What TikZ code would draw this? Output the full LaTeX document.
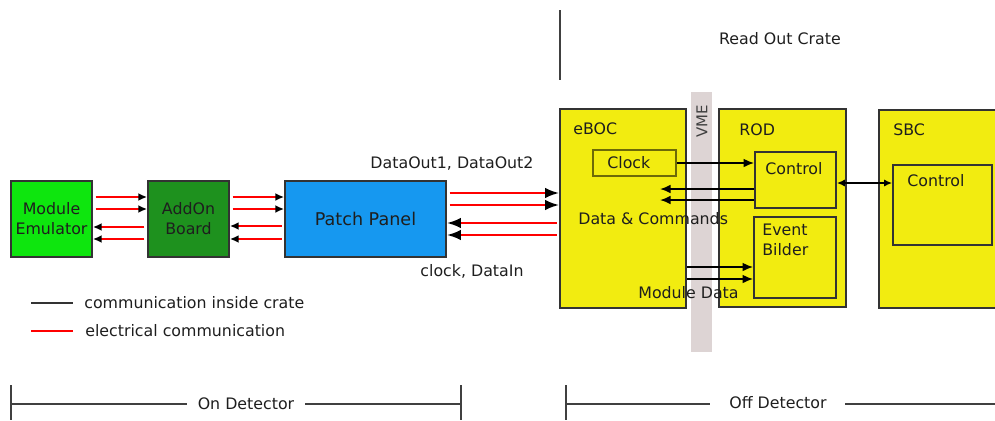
\documentclass[tikz,border=0pt]{standalone}
\usepackage{fontspec}
\setmainfont{DejaVu Sans}
\usetikzlibrary{arrows.meta}
\definecolor{emugreen}{RGB}{14,230,14}
\definecolor{addgreen}{RGB}{30,145,30}
\definecolor{panelblue}{RGB}{22,152,240}
\definecolor{crateyellow}{RGB}{242,236,16}
\definecolor{vmegray}{RGB}{221,212,212}
\definecolor{txt}{RGB}{30,30,30}
\tikzset{
  box/.style={draw=black!80,line width=1pt,inner sep=0pt,text=txt,
    font=\fontsize{9}{11.3}\selectfont,align=center},
  lbl/.style={text=txt,font=\fontsize{9}{11.3}\selectfont,inner sep=0pt},
  elec/.style={red,line width=1.3pt,shorten <=1.5pt},
  crate/.style={black,line width=1pt},
  sep/.style={black!75,line width=0.6pt}
}
\begin{document}
\begin{tikzpicture}[x=0.02cm,y=-0.02cm]
  \clip (0,0) rectangle (995,420);
  \node[box,fill=emugreen,minimum width=1.62cm,minimum height=1.52cm] (emu) at (51.5,219) {Module\\Emulator};
  \node[box,fill=addgreen,minimum width=1.62cm,minimum height=1.52cm] (addon) at (188.5,219) {AddOn\\Board};
  \node[box,fill=panelblue,minimum width=3.22cm,minimum height=1.52cm,font=\fontsize{10}{12}\selectfont] (panel) at (365.5,219) {Patch Panel};
  \node[fill=vmegray,minimum width=0.42cm,minimum height=5.2cm,inner sep=0pt] (vme) at (701.5,222) {};
  \node[lbl,rotate=90,text=black!75,font=\fontsize{8.5}{10}\selectfont] (vmetxt) at (702,121) {VME};
  \node[box,fill=crateyellow,minimum width=2.52cm,minimum height=3.98cm] (eboc) at (623,208.5) {};
  \node[box,fill=crateyellow,minimum width=2.54cm,minimum height=3.96cm] (rod) at (782.5,208) {};
  \node[box,fill=crateyellow,minimum width=2.62cm,minimum height=3.96cm] (sbc) at (944.5,209) {};
  \node[box,draw=black!55!crateyellow,line width=0.7pt,minimum width=1.66cm,minimum height=0.52cm] (clock) at (634.5,163) {};
  \node[box,minimum width=1.62cm,minimum height=1.12cm] (rodc) at (795.5,180) {};
  \node[box,minimum width=1.64cm,minimum height=1.62cm] (evb) at (795,257.5) {};
  \node[box,minimum width=1.98cm,minimum height=1.6cm] (sbcc) at (942.5,205) {};

  \node[lbl,anchor=west] (eboctxt) at (573,129) {eBOC};
  \node[lbl,anchor=west] (rodtxt) at (739,130) {ROD};
  \node[lbl,anchor=west] (sbctxt) at (893,130) {SBC};
  \node[lbl,anchor=west] (clocktxt) at (607,163) {Clock};
  \node[lbl,anchor=west] (rodctxt) at (765,169) {Control};
  \node[lbl,anchor=north west,align=left] (evbtxt) at (762,224) {Event\\Bilder};
  \node[lbl,anchor=west] (sbcctxt) at (907,181) {Control};
  \node[lbl,anchor=west] (dctxt) at (578,219) {Data \& Commands};
  \node[lbl,anchor=west] (mdtxt) at (638,293) {Module Data};
  \node[lbl] (outtxt) at (452,164) {DataOut1, DataOut2};
  \node[lbl] (intxt) at (472,271) {clock, DataIn};

  \foreach \y in {197,209}
    \draw[elec,-{Latex[color=black,length=5pt,width=4.5pt]}] (emu.east |- 0,\y) -- (addon.west |- 0,\y);
  \foreach \y in {227,239}
    \draw[elec,-{Latex[color=black,length=5pt,width=4.5pt]}] (addon.west |- 0,\y) -- (emu.east |- 0,\y);
  \foreach \y in {197,209}
    \draw[elec,-{Latex[color=black,length=5pt,width=4.5pt]}] (addon.east |- 0,\y) -- (panel.west |- 0,\y);
  \foreach \y in {226,239}
    \draw[elec,-{Latex[color=black,length=5pt,width=4.5pt]}] (panel.west |- 0,\y) -- (addon.east |- 0,\y);
  \foreach \y in {193,205}
    \draw[elec,-{Latex[color=black,length=8pt,width=6pt]}] (panel.east |- 0,\y) -- (eboc.west |- 0,\y);
  \foreach \y in {223,235}
    \draw[elec,-{Latex[color=black,length=8pt,width=6pt]}] (eboc.west |- 0,\y) -- (panel.east |- 0,\y);

  \coordinate (dcin) at (660,200);
  \draw[crate,-{Latex[length=6pt,width=5pt]}] (clock.east) -- (rodc.west |- clock.east);
  \foreach \y in {189,200}
    \draw[crate,-{Latex[length=6pt,width=5pt]}] (rodc.west |- 0,\y) -- (dcin |- 0,\y);
  \foreach \y in {267,279}
    \draw[crate,-{Latex[length=6pt,width=5pt]}] (eboc.east |- 0,\y) -- (evb.west |- 0,\y);
  \draw[crate,{Latex[length=4.5pt,width=4pt]}-{Latex[length=4.5pt,width=4pt]}] (rodc.east |- 0,183) -- (sbcc.west |- 0,183);

  \draw[sep,black!80] (31,303) -- (73,303);
  \node[lbl,anchor=west] (leg1) at (84,303) {communication inside crate};
  \draw[sep,red] (31,331) -- (73,331);
  \node[lbl,anchor=west] (leg2) at (85,331) {electrical communication};

  \draw[sep] (560,10) -- (560,80);
  \node[lbl] (crate) at (780,39) {Read Out Crate};

  \draw[sep] (11,385) -- (11,420);
  \draw[sep] (461,385) -- (461,420);
  \draw[sep] (566,385) -- (566,420);
  \draw[sep] (11,404) -- (187,404);
  \draw[sep] (305,404) -- (461,404);
  \node[lbl] (ondet) at (246,404) {On Detector};
  \draw[sep] (566,404) -- (710,404);
  \draw[sep] (845,404) -- (995,404);
  \node[lbl] (offdet) at (778,403) {Off Detector};
\end{tikzpicture}
\end{document}
